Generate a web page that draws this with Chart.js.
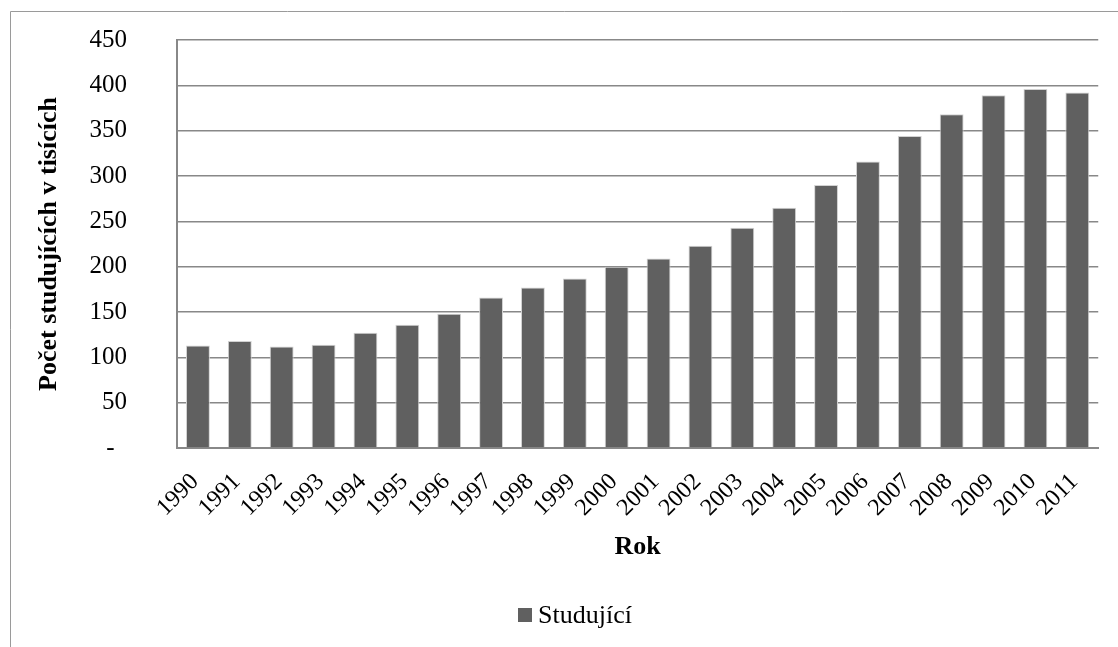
<!DOCTYPE html>
<html>
<head>
<meta charset="utf-8">
<script src="https://cdn.jsdelivr.net/npm/chart.js@4/dist/chart.umd.min.js"></script>
<style>
  html, body { margin: 0; padding: 0; background: #ffffff; }
  #wrap { width: 1118px; height: 647px; position: relative; overflow: hidden; }
  #legend {
    position: absolute; left: 518px; top: 600px;
    font-family: "Liberation Serif", "Times New Roman", serif;
    font-size: 26px; line-height: 30px; color: #000;
    display: flex; align-items: center; white-space: nowrap;
  }
  #legend .swatch { display: inline-block; width: 14px; height: 14px; margin-right: 6px; }
</style>
</head>
<body>
<div id="wrap">
  <canvas id="c" width="1118" height="647"></canvas>
  <div id="legend"></div>
</div>
<script>
// Počet studujících vysokých škol (v tisících), 1990–2011
const years = ['1990','1991','1992','1993','1994','1995','1996','1997','1998','1999','2000',
               '2001','2002','2003','2004','2005','2006','2007','2008','2009','2010','2011'];
const students = [113, 118, 112, 114, 127, 136, 148, 166, 177, 187, 200,
                  209, 223, 243, 265, 290, 316, 344, 368, 389, 396, 392];
const seriesName = 'Studující';
const yAxisTitle = 'Počet studujících v tisících';
const xAxisTitle = 'Rok';

const serif = '"Liberation Serif", "Times New Roman", serif';
const gridGrey = '#888888';
const barFill = '#606060';

// thin frame around the whole chart object
const framePlugin = {
  id: 'frame',
  beforeDraw(chart) {
    const ctx = chart.ctx;
    ctx.save();
    ctx.fillStyle = '#ffffff';
    ctx.fillRect(0, 0, chart.width, chart.height);
    ctx.strokeStyle = '#9a9a9a';
    ctx.lineWidth = 1;
    ctx.beginPath();
    ctx.moveTo(10.5, chart.height + 5);
    ctx.lineTo(10.5, 11.5);
    ctx.lineTo(chart.width + 5, 11.5);
    ctx.stroke();
    ctx.restore();
  }
};

const chart = new Chart(document.getElementById('c'), {
  type: 'bar',
  data: {
    labels: years,
    datasets: [{
      label: seriesName,
      data: students,
      backgroundColor: barFill,
      borderColor: '#d2d2d2',
      borderWidth: 1,
      categoryPercentage: 1.0,
      barPercentage: 0.57
    }]
  },
  options: {
    responsive: false,
    animation: false,
    devicePixelRatio: 1,
    layout: { padding: { left: 0, right: 15, top: 40, bottom: 52 } },
    plugins: {
      legend: { display: false },
      tooltip: { enabled: false }
    },
    scales: {
      x: {
        grid: { display: false, drawTicks: false },
        border: { display: true, color: gridGrey, width: 2 },
        ticks: {
          minRotation: 45,
          maxRotation: 45,
          autoSkip: false,
          padding: 20,
          labelOffset: -3,
          color: '#000000',
          font: { family: serif, size: 24 }
        },
        title: {
          display: true,
          text: xAxisTitle,
          color: '#000000',
          font: { family: serif, size: 26, weight: 'bold' },
          padding: { top: 0, bottom: 32 }
        },
        afterFit(scale) { scale.height = 147; }
      },
      y: {
        min: 0,
        max: 450,
        // invisible tick marks keep the labels clear of the axis line
        grid: { color: gridGrey, lineWidth: 1.5, drawTicks: true, tickLength: 42, tickColor: 'rgba(0,0,0,0)' },
        border: { display: true, color: gridGrey, width: 2 },
        ticks: {
          stepSize: 50,
          padding: 8,
          color: '#000000',
          font: { family: serif, size: 25 },
          callback: (v) => (v === 0 ? '-  ' : String(v))
        },
        title: {
          display: true,
          text: yAxisTitle,
          color: '#000000',
          font: { family: serif, size: 26, weight: 'bold' },
          padding: { top: 34, bottom: 0 }
        },
        afterFit(scale) { scale.width = 177; }
      }
    }
  },
  plugins: [framePlugin]
});

// legend built from the dataset
const legendEl = document.getElementById('legend');
chart.data.datasets.forEach((ds) => {
  const sw = document.createElement('span');
  sw.className = 'swatch';
  sw.style.background = ds.backgroundColor;
  const tx = document.createElement('span');
  tx.textContent = ds.label;
  legendEl.appendChild(sw);
  legendEl.appendChild(tx);
});
</script>
</body>
</html>
